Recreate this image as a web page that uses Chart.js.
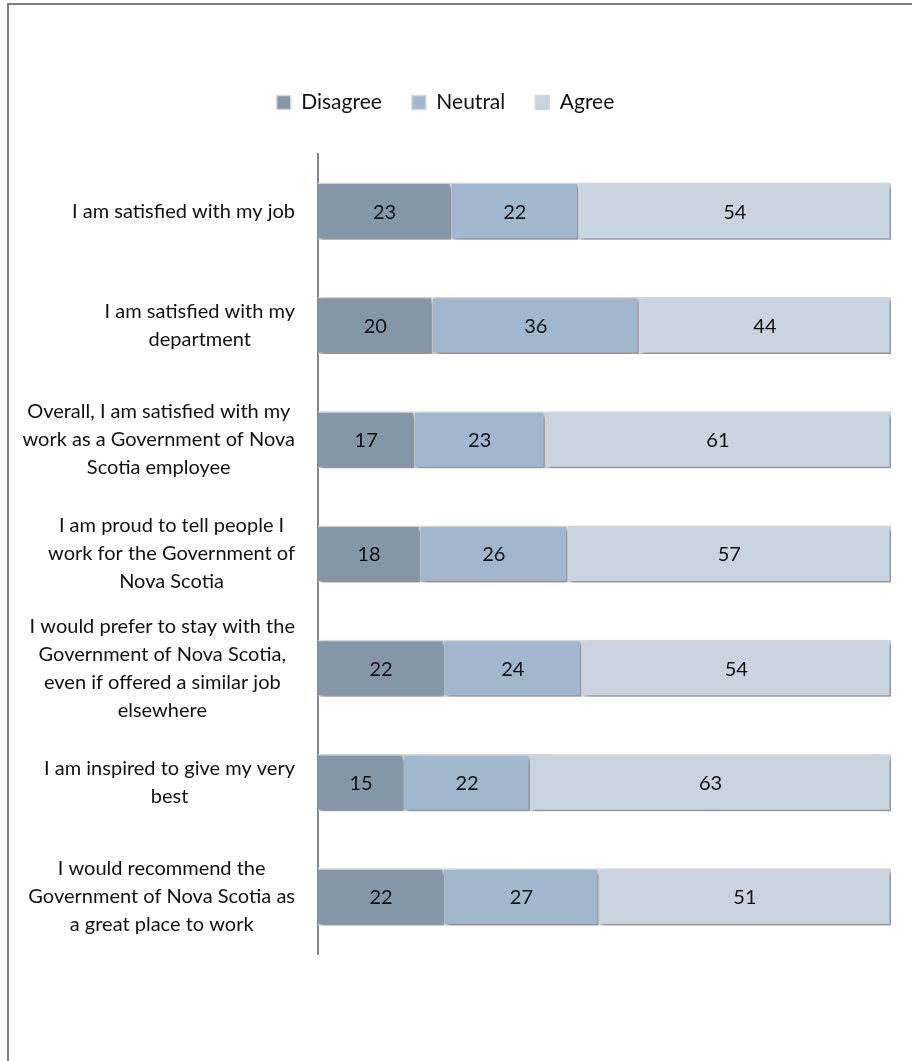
<!DOCTYPE html>
<html>
<head>
<meta charset="utf-8">
<script src="https://cdn.jsdelivr.net/npm/chart.js@4.4.1/dist/chart.umd.min.js"></script>
<style>
  html, body { margin:0; padding:0; background:#fff; overflow:hidden; }
  #wrap { position:relative; width:912px; height:1061px; }
  #frame { position:absolute; left:7px; top:3px; width:1000px; height:1200px; border:2px solid #7f7f7f; box-sizing:border-box; }
  #chart { position:absolute; left:0; top:0; }
</style>
</head>
<body>
<div id="wrap">
  <div id="frame"></div>
  <canvas id="chart" width="912" height="1061"></canvas>
</div>
<script>
  // questions (wrapped the way the original shows them)
  const questions = [
    ['I am satisfied with my job'],
    ['I am satisfied with my', 'department'],
    ['Overall, I am satisfied with my', 'work as a Government of Nova', 'Scotia employee'],
    ['I am proud to tell people I', 'work for the Government of', 'Nova Scotia'],
    ['I would prefer to stay with the', 'Government of Nova Scotia,', 'even if offered a similar job', 'elsewhere'],
    ['I am inspired to give my very', 'best'],
    ['I would recommend the', 'Government of Nova Scotia as', 'a great place to work']
  ];
  const disagree = [23, 20, 17, 18, 22, 15, 22];
  const neutral  = [22, 36, 23, 26, 24, 22, 27];
  const agree    = [54, 44, 61, 57, 54, 63, 51];

  const FONT = 'Lato, "Open Sans", sans-serif';

  // 100% stacked: each row is scaled to its own total
  const totals = questions.map((q, i) => disagree[i] + neutral[i] + agree[i]);
  const share = (arr) => arr.map((v, i) => v / totals[i] * 100);

  const series = [
    { label: 'Disagree', raw: disagree, color: '#8497a8' },
    { label: 'Neutral',  raw: neutral,  color: '#a1b7ce' },
    { label: 'Agree',    raw: agree,    color: '#c8d5e1' }
  ];

  const barShadow = {
    id: 'barShadow',
    beforeDatasetsDraw(chart){
      const c = chart.ctx;
      c.save();
      c.shadowColor = 'rgba(0,0,0,0.35)';
      c.shadowBlur = 4;
      c.shadowOffsetX = 3;
      c.shadowOffsetY = 3;
    },
    afterDatasetsDraw(chart){ chart.ctx.restore(); }
  };

  const valueLabels = {
    id: 'valueLabels',
    afterDatasetsDraw(chart){
      const c = chart.ctx;
      c.save();
      c.font = '20px ' + FONT;
      c.fillStyle = '#111';
      c.textAlign = 'center';
      c.textBaseline = 'middle';
      chart.data.datasets.forEach((ds, di) => {
        chart.getDatasetMeta(di).data.forEach((bar, i) => {
          const p = bar.getProps(['x', 'y', 'base'], true);
          c.fillText(String(ds.raw[i]), (p.x + p.base) / 2, p.y + 1);
        });
      });
      c.restore();
    }
  };

  // category text: block sits right against the axis, lines centred inside the block
  const questionLabels = {
    id: 'questionLabels',
    afterDraw(chart){
      const c = chart.ctx, y = chart.scales.y;
      const lh = 28, gap = 23;
      c.save();
      c.font = '20px ' + FONT;
      c.fillStyle = '#111';
      c.textAlign = 'center';
      c.textBaseline = 'middle';
      chart.data.labels.forEach((lines, i) => {
        const w = Math.max(...lines.map(l => c.measureText(l).width));
        const cx = y.right - gap - w / 2;
        const cy = y.getPixelForTick(i);
        lines.forEach((l, k) => c.fillText(l, cx, cy + (k - (lines.length - 1) / 2) * lh));
      });
      c.restore();
    }
  };

  const legendGap = {
    id: 'legendGap',
    beforeInit(chart){
      const fit = chart.legend.fit;
      chart.legend.fit = function(){ fit.call(this); this.height += 31; };
    }
  };

  new Chart(document.getElementById('chart'), {
    type: 'bar',
    data: {
      labels: questions,
      datasets: series.map(s => ({
        label: s.label,
        data: share(s.raw),
        raw: s.raw,
        backgroundColor: s.color,
        borderColor: '#d6d6d6',
        borderWidth: 1.5,
        barPercentage: 0.5,
        categoryPercentage: 1
      }))
    },
    options: {
      indexAxis: 'y',
      responsive: false,
      animation: false,
      layout: { padding: { top: 62, right: 21, bottom: 107, left: 0 } },
      plugins: {
        legend: {
          position: 'top',
          labels: { boxWidth: 14, boxHeight: 14, padding: 30, color: '#111', font: { family: FONT, size: 21 } }
        },
        tooltip: { enabled: false }
      },
      scales: {
        x: { stacked: true, min: 0, max: 100, display: false },
        y: {
          stacked: true,
          grid: { display: false, drawTicks: false },
          border: { display: true, color: '#868686', width: 2 },
          ticks: { display: false, autoSkip: false },
          afterFit(scale){ scale.width = 318; }
        }
      }
    },
    plugins: [barShadow, valueLabels, questionLabels, legendGap]
  });
</script>
</body>
</html>
